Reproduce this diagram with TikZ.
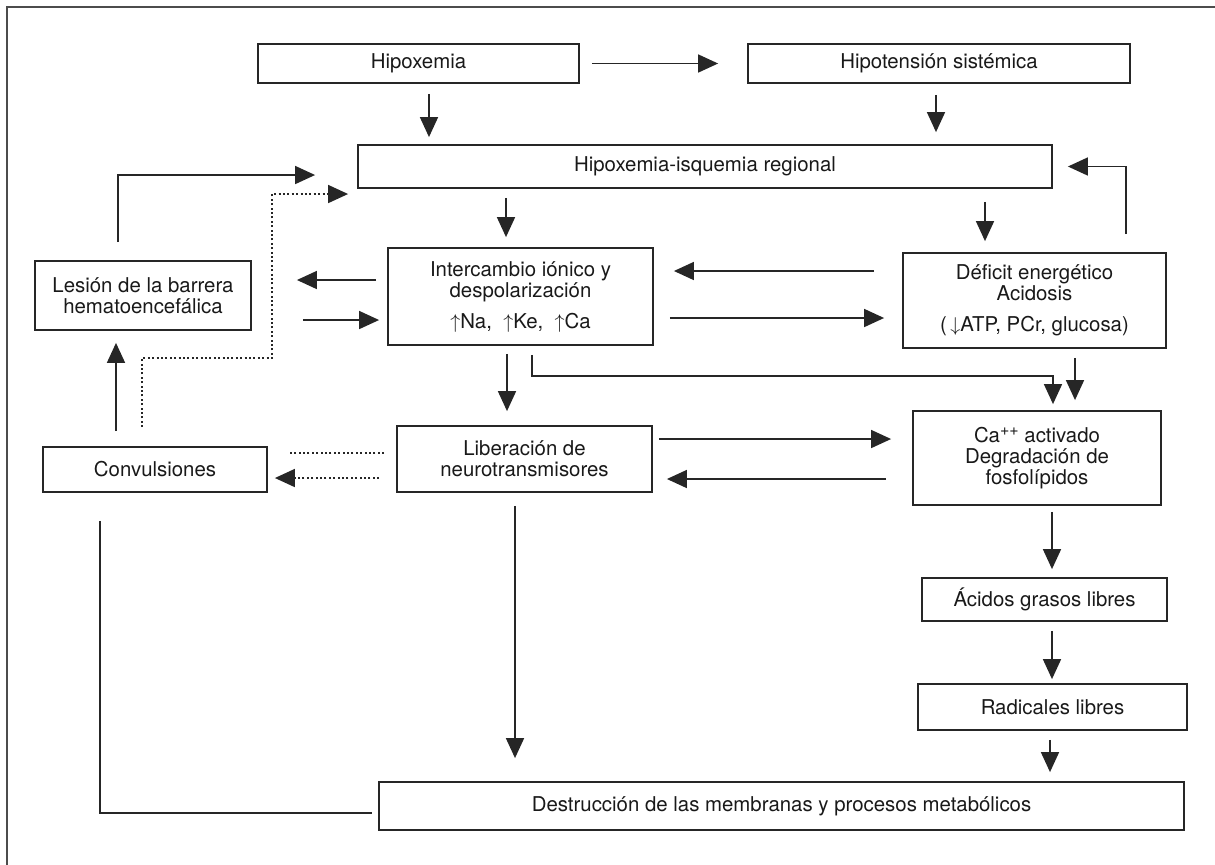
\documentclass[tikz,border=0pt]{standalone}
\usepackage{fontspec}
\setmainfont{TeX Gyre Heros}
\usetikzlibrary{arrows.meta}

\begin{document}
\begin{tikzpicture}[x=0.5pt,y=0.5pt,
  box/.style={draw=black!85, line width=0.9pt, inner sep=0pt, align=center,
    font=\fontsize{10.2}{10.5}\selectfont, text=black!90},
  plain/.style={draw=black!85, line width=0.8pt},
  arr/.style={plain, -{Triangle[length=10pt,width=9pt]}},
  dotline/.style={plain, dash pattern=on 1pt off 1.2pt},
  dotarr/.style={arr, dash pattern=on 1pt off 1.2pt}]
\useasboundingbox (0,0) rectangle (1215,-864);
\draw[black!70, line width=1pt] (7,-7) rectangle (1250,-900);

\node[box, minimum width=160.5pt, minimum height=19.5pt] (hipox) at (418.5,-63.5) {Hipoxemia};
\node[box, minimum width=191pt, minimum height=19.5pt] (hipot) at (939,-63.5) {Hipotensión sistémica};
\node[box, minimum width=347pt, minimum height=21.5pt] (isq) at (705,-166.5) {Hipoxemia-isquemia regional};
\node[box, minimum width=108pt, minimum height=34.5pt] (lesion) at (143,-295.5) {Lesión de la barrera\\hematoencefálica};
\node[box, minimum width=132.5pt, minimum height=48.5pt] (interc) at (520.5,-296.5) {Intercambio iónico y\\despolarización\\[5pt]$\uparrow$Na,\ \ $\uparrow$Ke,\ \ $\uparrow$Ca};
\node[box, minimum width=131.5pt, minimum height=47.5pt] (deficit) at (1034.5,-300.5) {Déficit energético\\Acidosis\\[5pt](\,$\downarrow$ATP, PCr, glucosa)};
\node[box, minimum width=112pt, minimum height=22.5pt] (convul) at (155,-469.5) {Convulsiones};
\node[box, minimum width=127.5pt, minimum height=33pt] (liber) at (524.5,-459) {Liberación de\\neurotransmisores};
\node[box, minimum width=124pt, minimum height=47pt] (calib) at (1037,-458) {Ca\raisebox{3.5pt}{\fontsize{8}{8}\selectfont ++} activado\\Degradación de\\fosfolípidos};
\node[box, minimum width=122.5pt, minimum height=21.5pt] (acidos) at (1044.5,-599.5) {Ácidos grasos libres};
\node[box, minimum width=134.5pt, minimum height=23pt] (radic) at (1052.5,-707) {Radicales libres};
\node[box, minimum width=402.5pt, minimum height=24pt] (destr) at (781.5,-806) {Destrucción de las membranas y procesos metabólicos};

% top row
\draw[arr, shorten <=6pt, shorten >=14.5pt] (hipox.east) -- (hipot.west);
\draw[arr, shorten <=5pt, shorten >=3.5pt] ([xshift=5.25pt]hipox.south) -- ([xshift=5.25pt]hipox.south |- isq.north);
\draw[arr, shorten <=5.5pt, shorten >=6pt] ([xshift=-1.5pt]hipot.south) -- ([xshift=-1.5pt]hipot.south |- isq.north);
% from regional
\draw[arr, shorten <=4.5pt, shorten >=5pt] ([xshift=-7.25pt]interc.north |- isq.south) -- ([xshift=-7.25pt]interc.north);
\draw[arr, shorten <=6.5pt, shorten >=5.5pt] ([xshift=-24.75pt]deficit.north |- isq.south) -- ([xshift=-24.75pt]deficit.north);
\draw[arr, shorten <=9pt, shorten >=7.5pt] ([xshift=-20.5pt]deficit.north east) |- (isq.east);

% intercambio
\draw[arr, shorten <=14pt, shorten >=10pt] ([yshift=12.75pt]interc.east -| deficit.west) -- ([yshift=12.75pt]interc.east);
\draw[arr, shorten <=8pt, shorten >=9pt] ([yshift=-10.75pt]interc.east) -- ([yshift=-10.75pt]interc.east -| deficit.west);
\draw[arr, shorten <=5.5pt, shorten >=22.5pt] ([yshift=8.25pt]interc.west) -- ([yshift=8.25pt]interc.west -| lesion.east);
\draw[arr, shorten <=25.5pt, shorten >=4pt] ([yshift=-11.75pt]interc.west -| lesion.east) -- ([yshift=-11.75pt]interc.west);
\draw[arr, shorten <=4pt, shorten >=7pt] ([xshift=-8.75pt]liber.north |- interc.south) -- ([xshift=-8.75pt]liber.north);
\draw[arr, shorten <=4.5pt, shorten >=3pt] ([xshift=5.75pt]interc.south) -- ++(0,-15pt) -| ([xshift=8pt]calib.north);
\draw[arr, shorten <=4.5pt, shorten >=5pt] ([xshift=20.25pt]deficit.south) -- ([xshift=20.25pt]deficit.south |- calib.north);

% liberacion
\draw[arr, shorten <=3pt, shorten >=10.5pt] ([yshift=10pt]liber.east) -- ([yshift=10pt]liber.east -| calib.west);
\draw[arr, shorten <=13pt, shorten >=7pt] ([yshift=-10pt]liber.east -| calib.west) -- ([yshift=-10pt]liber.east);
\draw[dotline, shorten <=6pt, shorten >=10pt] ([yshift=3pt]liber.west) -- ([yshift=3pt]liber.west -| convul.east);
\draw[dotarr, shorten <=8.5pt, shorten >=3.5pt] ([yshift=-9.5pt]liber.west) -- ([yshift=-9.5pt]liber.west -| convul.east);
\draw[arr, shorten <=6.5pt, shorten >=11.5pt] ([xshift=-4.75pt]liber.south) -- ([xshift=-4.75pt]liber.south |- destr.north);

% convulsiones
\draw[arr, shorten <=7.5pt, shorten >=6pt] ([xshift=-19.5pt]convul.north) -- ([xshift=-19.5pt]convul.north |- lesion.south);
\draw[dotarr, shorten <=9.5pt, shorten >=4.5pt] ([xshift=-6.5pt]convul.north) -- ++(0,44pt) -- ++(65pt,0) |- ([yshift=-13.75pt]isq.west);
\draw[arr, shorten <=9pt, shorten >=21pt] ([xshift=-12.5pt]lesion.north) |- ([yshift=-4.25pt]isq.west);
\draw[plain, shorten <=14pt, shorten >=3pt] ([xshift=-27.5pt]convul.south) |- ([yshift=-3.5pt]destr.west);

% cascade
\draw[arr, shorten <=3pt, shorten >=4pt] ([xshift=7.5pt]calib.south) -- ([xshift=7.5pt]calib.south |- acidos.north);
\draw[arr, shorten <=4.5pt, shorten >=2pt] ([xshift=3.75pt]acidos.south) -- ([xshift=3.75pt]acidos.south |- radic.north);
\draw[arr, shorten <=4.5pt, shorten >=4.5pt] ([xshift=-1.25pt]radic.south) -- ([xshift=-1.25pt]radic.south |- destr.north);
\end{tikzpicture}
\end{document}
